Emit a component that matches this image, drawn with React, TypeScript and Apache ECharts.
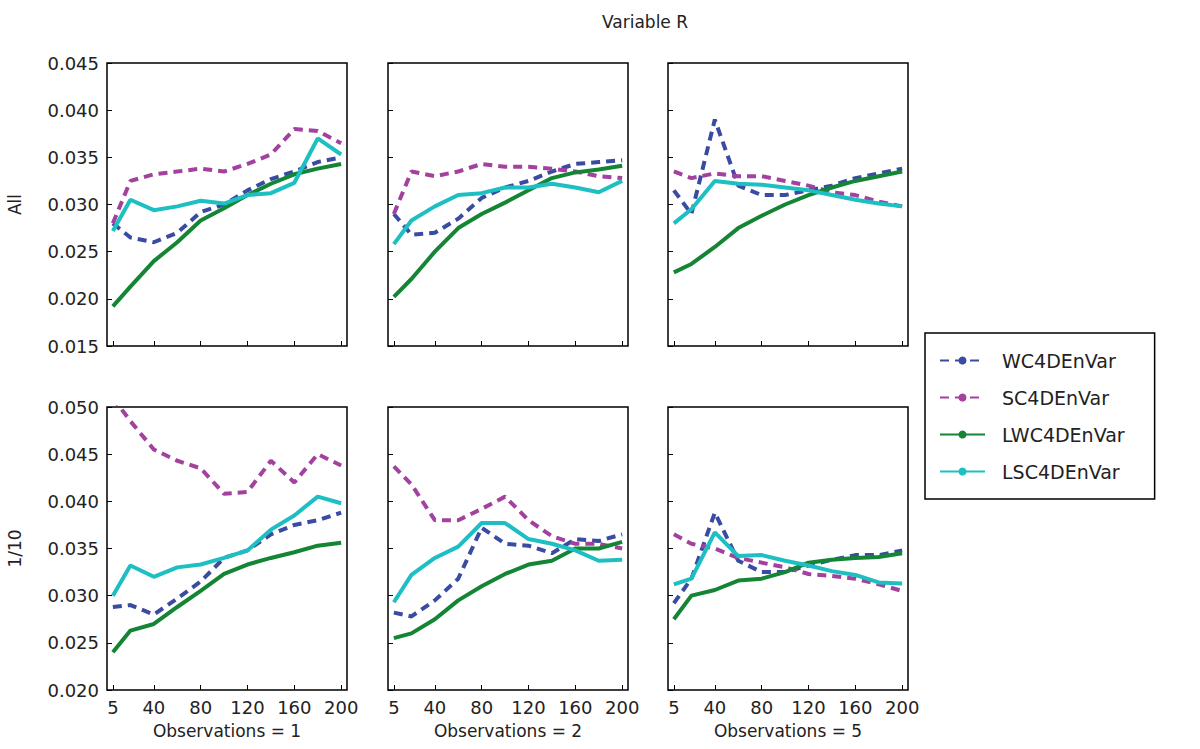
import React, { useEffect, useRef } from "react";
import * as echarts from "echarts";

const xObs = [5, 20, 40, 60, 80, 100, 120, 140, 160, 180, 200];
const xTicks = [5, 40, 80, 120, 160, 200];
const panelTitles = ["Observations = 1", "Observations = 2", "Observations = 5"];
const rowLabels = ["All", "1/10"];
const seriesNames = ["WC4DEnVar", "SC4DEnVar", "LWC4DEnVar", "LSC4DEnVar"];

// row "All"
const allWC = [
  [0.028, 0.0265, 0.026, 0.027, 0.0292, 0.03, 0.0315, 0.0327, 0.0335, 0.0345, 0.035],
  [0.029, 0.0268, 0.027, 0.0285, 0.0307, 0.0318, 0.0325, 0.0335, 0.0343, 0.0345, 0.0347],
  [0.0315, 0.029, 0.039, 0.032, 0.031, 0.031, 0.0315, 0.032, 0.0328, 0.0333, 0.0338],
];
const allSC = [
  [0.028, 0.0325, 0.0332, 0.0335, 0.0338, 0.0335, 0.0343, 0.0353, 0.038, 0.0378, 0.0365],
  [0.029, 0.0335, 0.033, 0.0335, 0.0343, 0.034, 0.034, 0.0338, 0.0335, 0.033, 0.0328],
  [0.0335, 0.0328, 0.0333, 0.033, 0.033, 0.0325, 0.032, 0.0313, 0.031, 0.0303, 0.0298],
];
const allLWC = [
  [0.0192, 0.0213, 0.024, 0.026, 0.0283, 0.0296, 0.031, 0.0322, 0.0332, 0.0338, 0.0343],
  [0.0202, 0.0221, 0.025, 0.0275, 0.029, 0.0302, 0.0315, 0.0328, 0.0334, 0.0337, 0.0341],
  [0.0228, 0.0237, 0.0255, 0.0275, 0.0288, 0.03, 0.031, 0.0318, 0.0325, 0.033, 0.0335],
];
const allLSC = [
  [0.0272, 0.0305, 0.0294, 0.0298, 0.0304, 0.0301, 0.031, 0.0312, 0.0323, 0.037, 0.0353],
  [0.0258, 0.0283, 0.0298, 0.031, 0.0312, 0.0318, 0.0318, 0.0322, 0.0318, 0.0313, 0.0325],
  [0.028, 0.0295, 0.0325, 0.0322, 0.0321, 0.0318, 0.0315, 0.031, 0.0305, 0.0301, 0.0298],
];
// row "1/10"
const tenthWC = [
  [0.0288, 0.029, 0.028, 0.0297, 0.0315, 0.034, 0.0348, 0.0365, 0.0375, 0.038, 0.0388],
  [0.0282, 0.0278, 0.0295, 0.0318, 0.0372, 0.0355, 0.0353, 0.0345, 0.036, 0.0358, 0.0365],
  [0.0292, 0.0318, 0.0388, 0.0337, 0.0325, 0.0325, 0.0332, 0.0338, 0.0343, 0.0343, 0.0348],
];
const tenthSC = [
  [0.051, 0.0485, 0.0455, 0.0443, 0.0435, 0.0408, 0.041, 0.0443, 0.042, 0.045, 0.0438],
  [0.0437, 0.0418, 0.038, 0.038, 0.0392, 0.0405, 0.038, 0.0363, 0.0355, 0.0355, 0.035],
  [0.0365, 0.0355, 0.035, 0.034, 0.0335, 0.033, 0.0323, 0.0321, 0.0318, 0.0312, 0.0305],
];
const tenthLWC = [
  [0.024, 0.0263, 0.027, 0.0288, 0.0305, 0.0323, 0.0333, 0.034, 0.0346, 0.0353, 0.0356],
  [0.0255, 0.026, 0.0275, 0.0295, 0.031, 0.0323, 0.0333, 0.0337, 0.035, 0.035, 0.0357],
  [0.0275, 0.03, 0.0306, 0.0316, 0.0318, 0.0325, 0.0335, 0.0338, 0.034, 0.0341, 0.0345],
];
const tenthLSC = [
  [0.03, 0.0332, 0.032, 0.033, 0.0333, 0.034, 0.0348, 0.037, 0.0385, 0.0405, 0.0398],
  [0.0293, 0.0322, 0.034, 0.0352, 0.0377, 0.0377, 0.036, 0.0355, 0.0348, 0.0337, 0.0338],
  [0.0312, 0.0318, 0.0367, 0.0342, 0.0343, 0.0337, 0.0332, 0.0326, 0.0322, 0.0314, 0.0313],
];

const colors = ["#3a4ca2", "#a3419e", "#148534", "#1dbfc2"];
const dashed = [true, true, false, false];
const font = "DejaVu Sans";

const App: React.FC = () => {
  const chartRef = useRef<HTMLDivElement>(null);

  useEffect(() => {
    const chart = echarts.init(chartRef.current, null, { renderer: "svg" });
    const lefts = [107, 388, 668];
    const rows = [
      { top: 63, min: 0.015, max: 0.045, data: [allWC, allSC, allLWC, allLSC] },
      { top: 407, min: 0.02, max: 0.05, data: [tenthWC, tenthSC, tenthLWC, tenthLSC] },
    ];
    const grid: any[] = [];
    const xAxis: any[] = [];
    const yAxis: any[] = [];
    const series: any[] = [];
    rows.forEach((row, r) => {
      lefts.forEach((left, c) => {
        const idx = grid.length;
        grid.push({
          left, top: row.top, width: 240, height: 283,
          show: true, borderColor: "#000", borderWidth: 1.5, backgroundColor: "#fff",
        });
        xAxis.push({
          type: "value", gridIndex: idx, min: 0, max: 205,
          axisLine: { show: false },
          splitLine: { show: false },
          axisTick: { inside: true, length: 5, customValues: xTicks, lineStyle: { color: "#000" } },
          axisLabel: {
            show: r === 1, customValues: xTicks, color: "#222", fontFamily: font, fontSize: 18, margin: 8,
          },
          name: r === 1 ? panelTitles[c] : "",
          nameLocation: "middle", nameGap: 32,
          nameTextStyle: { color: "#222", fontFamily: font, fontSize: 17 },
        });
        yAxis.push({
          type: "value", gridIndex: idx, min: row.min, max: row.max, interval: 0.005,
          axisLine: { show: false },
          splitLine: { show: false },
          axisTick: { inside: true, length: 5, lineStyle: { color: "#000" } },
          axisLabel: {
            show: c === 0, color: "#222", fontFamily: font, fontSize: 18, margin: 8,
            formatter: (v: number) => v.toFixed(3),
          },
          name: c === 0 ? rowLabels[r] : "",
          nameLocation: "middle", nameGap: 84,
          nameTextStyle: { color: "#222", fontFamily: font, fontSize: 17 },
        });
        seriesNames.forEach((name, s) => {
          series.push({
            type: "line", name, xAxisIndex: idx, yAxisIndex: idx,
            data: xObs.map((x, i) => [x, row.data[s][c][i]]),
            symbol: "none", clip: true,
            lineStyle: {
              color: colors[s], width: 4,
              type: dashed[s] ? [9, 6] : "solid",
            },
            itemStyle: { color: colors[s] },
          });
        });
      });
    });

    chart.setOption({
      animation: false,
      backgroundColor: "#fff",
      title: {
        text: "Variable R", left: 597, top: 8,
        textStyle: { fontFamily: font, fontSize: 17, fontWeight: "normal", color: "#222" },
      },
      legend: {
        data: seriesNames, orient: "vertical", left: 925, top: 333,
        width: 272, itemWidth: 45, itemHeight: 10, itemGap: 18,
        padding: [18, 30, 18, 14],
        borderColor: "#000", borderWidth: 1.5, backgroundColor: "#fff",
        textStyle: { fontFamily: font, fontSize: 19, color: "#222", padding: [0, 0, 0, 12] },
      },
      grid, xAxis, yAxis, series,
    });
    return () => chart.dispose();
  }, []);

  return (
    <div
      ref={chartRef}
      style={{ position: "absolute", left: 0, top: 0, width: 1200, height: 749 }}
    />
  );
};

export default App;
